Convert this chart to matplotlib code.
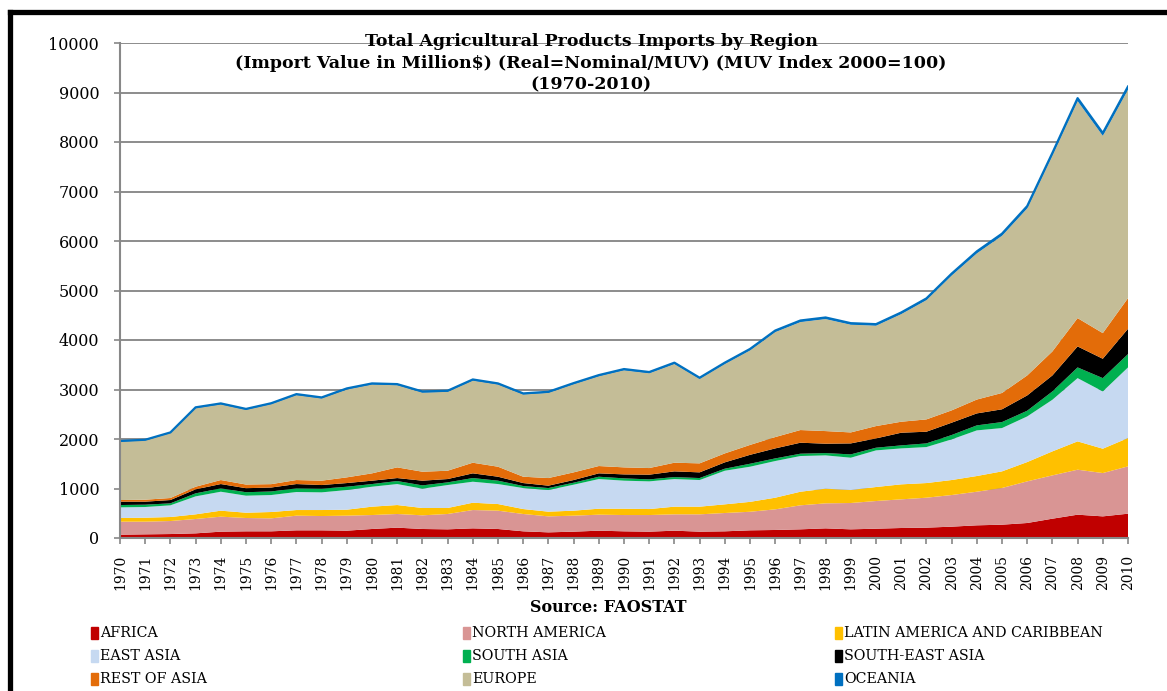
import numpy as np
import matplotlib
matplotlib.use("Agg")
import matplotlib.pyplot as plt
from matplotlib.lines import Line2D
from matplotlib.patches import Rectangle

years = list(range(1970, 2011))

africa = [67, 74, 80, 94, 128, 135, 135, 155, 155, 148, 182, 209, 182, 175, 195, 182, 135, 114, 128, 148,
          135, 128, 148, 128, 135, 155, 162, 175, 195, 175, 188, 202, 209, 229, 256, 269, 303, 390, 471, 437, 491]
north_america = [263, 256, 263, 290, 303, 269, 262, 296, 289, 303, 282, 276, 276, 310, 370, 370, 350, 323, 323, 323,
                 329, 336, 330, 350, 370, 375, 417, 485, 505, 532, 559, 579, 605, 639, 679, 741, 841, 875, 909, 875, 956]
latin_america = [74, 80, 81, 94, 121, 107, 128, 114, 121, 121, 169, 181, 148, 121, 148, 134, 100, 95, 101, 121,
                 128, 121, 155, 155, 175, 200, 235, 275, 296, 262, 283, 303, 296, 303, 317, 336, 390, 485, 572, 492, 572]
east_asia = [215, 216, 236, 363, 383, 344, 343, 364, 357, 397, 403, 424, 390, 464, 424, 404, 424, 437, 525, 599,
             566, 559, 558, 538, 679, 710, 741, 721, 673, 653, 740, 726, 727, 821, 922, 875, 922, 1043, 1278, 1157, 1427]
south_asia = [47, 47, 40, 61, 68, 70, 72, 74, 74, 67, 54, 61, 67, 54, 74, 68, 41, 40, 40, 47,
              47, 40, 40, 40, 41, 60, 53, 47, 47, 67, 54, 61, 74, 88, 101, 121, 115, 168, 216, 269, 269]
south_east_asia = [68, 61, 67, 81, 87, 81, 80, 87, 74, 74, 68, 60, 95, 67, 95, 80, 60, 48, 54, 68,
                   80, 95, 115, 115, 128, 180, 202, 222, 189, 222, 188, 256, 236, 249, 242, 258, 309, 323, 424, 391, 511]
rest_of_asia = [33, 40, 41, 53, 81, 74, 68, 81, 88, 115, 148, 216, 181, 168, 215, 202, 128, 154, 155, 148,
                142, 134, 175, 182, 181, 200, 229, 256, 255, 222, 249, 222, 249, 249, 280, 330, 404, 485, 572, 518, 620]
europe = [1178, 1196, 1309, 1584, 1526, 1508, 1615, 1714, 1661, 1775, 1794, 1659, 1599, 1594, 1658, 1660, 1661, 1721, 1780, 1813,
          1961, 1915, 1995, 1706, 1807, 1911, 2122, 2182, 2264, 2177, 2029, 2175, 2410, 2725, 2953, 3176, 3375, 3959, 4386, 3987, 4213]
oceania = [15, 15, 16, 20, 22, 20, 20, 22, 21, 22, 23, 23, 22, 22, 24, 23, 22, 22, 23, 24,
           25, 25, 26, 24, 26, 28, 30, 31, 31, 30, 30, 32, 34, 37, 40, 42, 46, 52, 58, 55, 62]

labels = ["AFRICA", "NORTH AMERICA", "LATIN AMERICA AND CARIBBEAN", "EAST ASIA", "SOUTH ASIA",
          "SOUTH-EAST ASIA", "REST OF ASIA", "EUROPE", "OCEANIA"]
colors = ["#C00000", "#D99594", "#FFC000", "#C6D9F1", "#00B050", "#000000", "#E36C09", "#C4BD97", "#0070C0"]

series = [africa, north_america, latin_america, east_asia, south_asia,
          south_east_asia, rest_of_asia, europe, oceania]

plt.rcParams['font.family'] = ['DejaVu Serif']

W, H = 1167, 691
fig = plt.figure(figsize=(W / 100, H / 100), dpi=100)
ax = fig.add_axes([120 / W, 1 - 538 / H, (1128 - 120) / W, (538 - 43) / H])

ax.stackplot(years, *series, colors=colors, linewidth=0)
total = np.sum(np.array(series), axis=0)
ax.plot(years, total, color="#0070C0", lw=1.6)

ax.set_xlim(1970, 2010)
ax.set_ylim(0, 10000)
ax.set_yticks(range(0, 10001, 1000))
ax.set_xticks(years)
ax.set_xticklabels([str(y) for y in years], rotation=90, fontsize=10)
ax.tick_params(axis='y', labelsize=11.5, length=4, width=1.2, color="#888888", pad=11)
ax.tick_params(axis='x', length=4, width=1.2, color="#888888", pad=8)
ax.yaxis.grid(True, color="#8c8c8c", lw=1.4)
ax.set_axisbelow(True)
for s in ['top', 'right']:
    ax.spines[s].set_visible(False)
for s in ['left', 'bottom']:
    ax.spines[s].set_color("#888888")
    ax.spines[s].set_linewidth(1.5)

fig.text(591 / W, 1 - 33 / H, "Total Agricultural Products Imports by Region\n"
         "(Import Value in Million$) (Real=Nominal/MUV) (MUV Index 2000=100)\n(1970-2010)",
         ha='center', va='top', fontsize=12.5, fontweight='bold', linespacing=1.35)

fig.text(608 / W, 1 - 607 / H, "Source: FAOSTAT", ha='center', va='center',
         fontsize=11.5, fontweight='bold')

# legend laid out as in the source: 3 columns, 3 rows
col_x = [95, 467, 839]
row_y = [633, 656, 679]
for i, (lab, c) in enumerate(zip(labels, colors)):
    x = col_x[i % 3]
    y = row_y[i // 3]
    fig.add_artist(Rectangle(((x - 4) / W, 1 - (y + 6) / H), 7 / W, 12 / H,
                             transform=fig.transFigure, color=c))
    fig.text((x + 5) / W, 1 - y / H, lab, ha='left', va='center', fontsize=10.3)

# black frame
fig.add_artist(Line2D([9.5 / W, 1.0], [1 - 12 / H, 1 - 12 / H], transform=fig.transFigure,
                      color='black', lw=3.8, solid_capstyle='projecting'))
fig.add_artist(Line2D([9.5 / W, 9.5 / W], [1 - 12 / H, 0], transform=fig.transFigure,
                      color='black', lw=3.8, solid_capstyle='projecting'))

fig.savefig("out.png", dpi=100)
